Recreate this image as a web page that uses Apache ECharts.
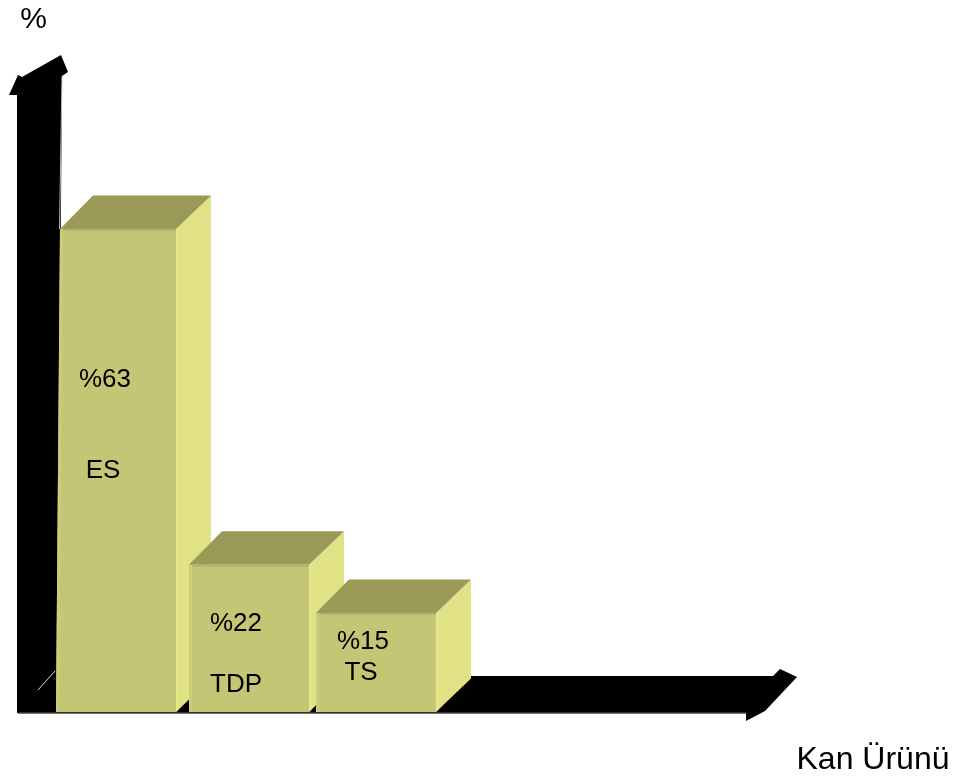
<!DOCTYPE html>
<html><head><meta charset="utf-8">
<style>html,body{margin:0;padding:0;background:#fff}#c{width:962px;height:776px}</style>
<script src="https://cdn.jsdelivr.net/npm/echarts@6/dist/echarts.min.js"></script>
</head><body><div id="c"></div>
<script>
// Data
const categories = ['ES', 'TDP', 'TS'];
const percentLabels = ['%63', '%22', '%15'];
// Bar heights as drawn in the picture, on the scale where the ES bar reads 63
// (the drawing is not proportional to its printed percentages).
const drawnHeights = [63, 19.2, 12.9];
const yAxisTitle = '%';
const xAxisTitle = 'Kan Ürünü';

// Style / layout (not data)
const FONT = '"Liberation Sans", Arial, sans-serif';
const BAR_W = 120, DX = 35, DY = 33.5;
const nudgeX = [0, 3, 0];
const topInset = [4, 0, 0];
const pctOffset = [[-11, 151], [-10, 59], [-13, 29]];
const catOffset = [[-13, 242], [-10, 120], [-15, 60]];
const C = {front: '#C4C675', top: '#999958', side: '#E1E285', frontEdge: '#CBCD7A', topEdge: '#B4B568', sideEdge: '#E6E788'};

function renderBar(params, api) {
  const i = api.value(0);
  const t = api.coord([i, api.value(1)]);
  const b = api.coord([i, 0]);
  const x0 = t[0] - BAR_W / 2 + nudgeX[i], x1 = x0 + BAR_W, yT = t[1], yB = b[1];
  const xT = x0 + topInset[i];
  const poly = (pts, fill) => ({type: 'polygon', shape: {points: pts}, style: {fill: fill}});
  const text = (off, s) => ({type: 'text', x: t[0] + off[0], y: yT + off[1],
    style: {text: s, font: '26px ' + FONT, fill: '#000', align: 'center', verticalAlign: 'middle'}});
  return {type: 'group', children: [
    poly([[x1, yT], [x1 + DX, yT - DY], [x1 + DX, yB - DY], [x1, yB]], C.side),
    poly([[x1, yT], [x1 + 3, yT - 3], [x1 + 3, yB - 3], [x1, yB]], C.sideEdge),
    poly([[xT, yT], [xT + DX - 2, yT - DY], [x1 + DX, yT - DY], [x1, yT]], C.top),
    poly([[xT, yT], [x1, yT], [x1, yB], [x0, yB]], C.front),
    poly([[xT, yT], [x1, yT], [x1, yT + 2], [xT, yT + 2]], C.topEdge),
    poly([[xT, yT], [xT + 3, yT], [x0 + 3, yB], [x0, yB]], C.frontEdge),
    text(pctOffset[i], percentLabels[i]),
    text(catOffset[i], categories[i])
  ]};
}

const chart = echarts.init(document.getElementById('c'), null, {renderer: 'canvas'});
chart.setOption({
  animation: false,
  backgroundColor: '#fff',
  grid: {left: 51, width: 390, top: 229, height: 483},
  xAxis: {type: 'category', data: categories, show: false},
  yAxis: {type: 'value', min: 0, max: 63, show: false},
  graphic: [
    // x-axis block arrow
    {type: 'polygon', z: -2, shape: {points: [[17,713],[17,676],[773,676],[780,669],[797,677],[765,711],[746,721],[746,713]]}, style: {fill: '#000'}},
    {type: 'line', z: -1, shape: {x1: 18, y1: 713, x2: 746, y2: 713}, style: {stroke: '#444', lineWidth: 1.5}},
    // y-axis block arrow
    {type: 'polygon', z: -2, shape: {points: [[17,713],[17,95],[9,95],[18,75],[22,77],[61,55],[68,72],[62,76],[57,713]]}, style: {fill: '#000'}},
    {type: 'line', z: -1, shape: {x1: 62, y1: 76, x2: 59.5, y2: 229}, style: {stroke: '#bbb', lineWidth: 1}},
    {type: 'line', z: -1, shape: {x1: 55, y1: 671, x2: 38, y2: 690}, style: {stroke: '#ddd', lineWidth: 1}},
    {type: 'text', x: 33.5, y: 20, z: 5, style: {text: yAxisTitle, font: '30px ' + FONT, fill: '#000', align: 'center', verticalAlign: 'middle'}},
    {type: 'text', x: 873, y: 760, z: 5, style: {text: xAxisTitle, font: '32px ' + FONT, fill: '#000', align: 'center', verticalAlign: 'middle'}}
  ],
  series: [{
    type: 'custom',
    renderItem: renderBar,
    encode: {x: 0, y: 1},
    data: drawnHeights.map((h, i) => [i, h]),
    clip: false
  }]
});
</script></body></html>
